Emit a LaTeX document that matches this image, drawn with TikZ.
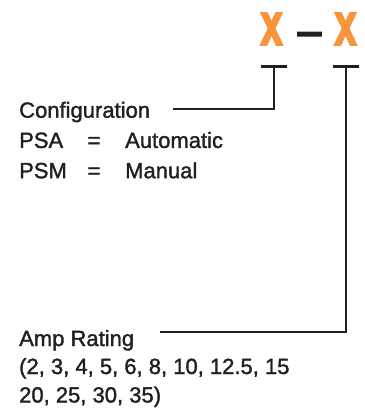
\documentclass[tikz,border=0pt]{standalone}
\usepackage{fontspec}
\setmainfont{Liberation Sans}[FakeStretch=1.0, FakeBold=1.5]
\newfontfamily\xfont{Liberation Sans}[FakeStretch=0.66, FakeBold=10]
\newfontfamily\dfont{Liberation Sans}[FakeBold=6]
\definecolor{xorange}{RGB}{247,148,60}
\definecolor{ink}{RGB}{35,31,32}
\tikzset{
  lbl/.style={anchor=base west, inner sep=0pt, text=ink, font=\fontsize{22}{26}\selectfont},
  eqs/.style={anchor=base, inner sep=0pt, text=ink, font=\fontsize{22}{26}\selectfont},
  bigx/.style={anchor=base, inner sep=0pt, text=xorange, font=\xfont\fontsize{43}{50}\selectfont},
  dsh/.style={anchor=base, inner sep=0pt, text=ink, font=\dfont\fontsize{40}{48}\selectfont},
  conn/.style={draw=ink, line width=2.2pt},
}
\begin{document}
\begin{tikzpicture}[x=1pt,y=-1pt]
\useasboundingbox (0,0) rectangle (365,416);
% code
\node[bigx] (x1) at (271.5,43.8) {X};
\node[dsh] (dash) at (309.5,44.3) {–};
\node[bigx] (x2) at (345.5,43.8) {X};
% configuration
\node[lbl] (cfg) at (19,117.7) {Configuration};
\node[lbl] (psa) at (19,147.9) {PSA};
\node[eqs] (eq1) at (94,147.9) {=};
\node[lbl] (auto) at (125,147.9) {Automatic};
\node[lbl] (psm) at (19,178.2) {PSM};
\node[eqs] (eq2) at (94,178.2) {=};
\node[lbl] (man) at (125,178.2) {Manual};
% amp rating
\node[lbl] (amp) at (19,346) {Amp Rating};
\node[lbl] (r1) at (19,374) {(2, 3, 4, 5, 6, 8, 10, 12.5, 15};
\node[lbl] (r2) at (19,402.5) {20, 25, 30, 35)};
% connectors
\coordinate (b1l) at (261,66.5);
\coordinate (b1r) at (287,66.5);
\coordinate (t1) at (274,66.5);
\coordinate (c1) at (173,109);
\coordinate (b2l) at (333,66.5);
\coordinate (b2r) at (359,66.5);
\coordinate (t2) at (346,66.5);
\coordinate (c2) at (160,332);
\draw[conn] (b1l) -- (b1r);
\draw[conn] (b2l) -- (b2r);
\draw[conn] (c1) -| (t1);
\draw[conn] (c2) -| (t2);
\end{tikzpicture}
\end{document}
